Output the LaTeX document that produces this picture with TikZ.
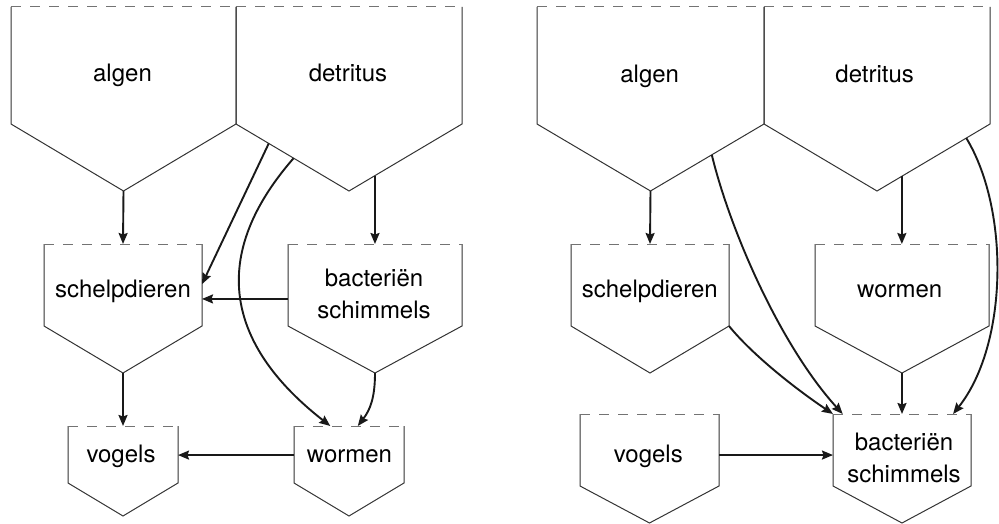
\documentclass[tikz,border=0pt]{standalone}
\usepackage{fontspec}
\setmainfont{TeX Gyre Heros}
\usetikzlibrary{arrows.meta,calc}

% box with dashed top edge and a point at the bottom
\newcommand{\tekenvak}[6]{%
 \coordinate (#1-nw) at (#2,#4);
 \coordinate (#1-ne) at (#3,#4);
 \coordinate (#1-sw) at (#2,#5);
 \coordinate (#1-se) at (#3,#5);
 \coordinate (#1-n) at ({(#2+#3)/2},#4);
 \coordinate (#1-s) at ({(#2+#3)/2},#6);
 \draw[rand] (#1-nw) -- (#1-sw) -- (#1-s) -- (#1-se) -- (#1-ne);
 \draw[boven] (#1-nw) -- (#1-ne);
}

\begin{document}
\begin{tikzpicture}[x=1pt, y=-1pt,
 rand/.style={draw=black!80, line width=1pt},
 boven/.style={draw=black!55, line width=1pt, dash pattern=on 10pt off 9pt},
 pijl/.style={-{Stealth[length=11pt,width=9pt,inset=1.5pt]}, line width=1.9pt, draw=black!90},
 tekst/.style={font=\fontsize{24}{32}\selectfont, inner sep=0pt, align=center}]
\useasboundingbox (0,0) rectangle (999,524);

% left food web
\tekenvak{alg1}{11}{236}{7}{124}{191}
\tekenvak{det1}{236}{462}{7}{124}{191}
\tekenvak{schelp1}{44}{202}{244}{326}{373}
\tekenvak{bact1}{288}{462}{244}{326}{373}
\tekenvak{vog1}{68}{178}{426}{483}{516}
\tekenvak{worm1}{294}{404}{426}{483}{516}
\node[tekst, anchor=base] (alg1) at (122.5,82) {algen};
\node[tekst, anchor=base] (det1) at (348,82) {detritus};
\node[tekst, anchor=base] (schelp1) at (123,297) {schelpdieren};
\node[tekst] (bact1) at (374,294) {bacteriën\\schimmels};
\node[tekst, anchor=base] (vog1) at (121,462) {vogels};
\node[tekst, anchor=base] (worm1) at (349.5,462) {wormen};

% right food web
\tekenvak{alg2}{537}{764}{7}{124}{191}
\tekenvak{det2}{764}{990}{7}{124}{191}
\tekenvak{schelp2}{571}{729}{244}{326}{373}
\tekenvak{worm2}{815}{989}{244}{326}{373}
\tekenvak{vog2}{580}{719}{414}{486}{523}
\tekenvak{bact2}{833}{971}{414}{486}{523}
\node[tekst, anchor=base] (alg2) at (649.7,83) {algen};
\node[tekst, anchor=base] (det2) at (874.7,83) {detritus};
\node[tekst, anchor=base] (schelp2) at (649.8,297) {schelpdieren};
\node[tekst, anchor=base] (worm2) at (899.7,297) {wormen};
\node[tekst, anchor=base] (vog2) at (648.3,462) {vogels};
\node[tekst] (bact2) at (904,458) {bacteriën\\schimmels};

% start points on the edges
\coordinate (d1a) at ($(det1-s)!0.23!(det1-se)$);
\coordinate (d1b) at ($(det1-s)!0.71!(det1-sw)$);
\coordinate (d1c) at ($(det1-s)!0.49!(det1-sw)$);
\coordinate (s1r) at ($(schelp1-ne)!0.49!(schelp1-se)$);
\coordinate (b1l) at ($(bact1-nw)!0.67!(bact1-sw)$);
\coordinate (w1n) at ($(worm1-nw)!0.33!(worm1-ne)$);
\coordinate (w1m) at ($(worm1-nw)!0.58!(worm1-ne)$);
\coordinate (w1l) at ($(worm1-nw)!0.51!(worm1-sw)$);
\coordinate (d2a) at ($(det2-s)!0.22!(det2-se)$);
\coordinate (d2b) at ($(det2-s)!0.79!(det2-se)$);
\coordinate (a2a) at ($(alg2-s)!0.54!(alg2-se)$);
\coordinate (b2a) at ($(bact2-nw)!0.07!(bact2-ne)$);
\coordinate (b2b) at ($(bact2-nw)!0.87!(bact2-ne)$);
\coordinate (v2r) at ($(vog2-ne)!0.57!(vog2-se)$);

% left arrows
\draw [pijl] (alg1-s) -- (schelp1-n);
\draw [pijl] (d1a) -- (d1a |- bact1-n);
\draw [pijl] (d1b) -- (s1r);
\draw [pijl] (d1c) .. controls (203,262) and (233,350) .. (w1n);
\draw [pijl] (b1l) -- (b1l -| schelp1-ne);
\draw [pijl] (bact1-s) .. controls (375,398) and (370,410) .. (w1m);
\draw [pijl] (schelp1-s) -- (vog1-n);
\draw [pijl] (w1l) -- (w1l -| vog1-ne);

% right arrows
\draw [pijl] (alg2-s) -- (schelp2-n);
\draw [pijl] (d2a) -- (d2a |- worm2-n);
\draw [pijl] (a2a) .. controls (730,230) and (780,345) .. (b2a);
\draw [pijl] (schelp2-se) .. controls (750,352) and (790,385) .. (bact2-nw);
\draw [pijl] (worm2-s) -- (bact2-n);
\draw [pijl] (d2b) .. controls (1010,210) and (1008,345) .. (b2b);
\draw [pijl] (v2r) -- (v2r -| bact2-nw);
\end{tikzpicture}
\end{document}
